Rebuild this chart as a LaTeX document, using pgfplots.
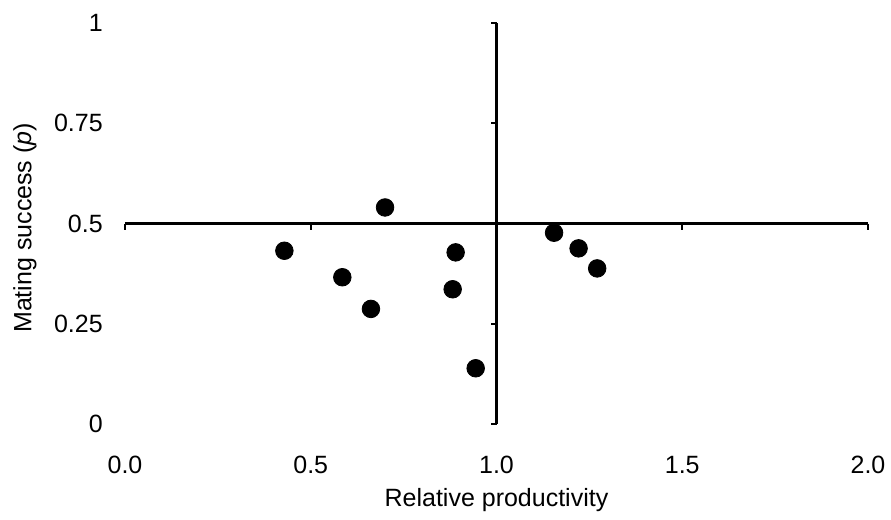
\documentclass[border=0pt]{standalone}
\usepackage{pgfplots}
\pgfplotsset{compat=1.18}
\usepackage{fontspec}
\setmainfont{Liberation Sans}
\begin{document}
\fontsize{12.5bp}{15bp}\selectfont
\begin{tikzpicture}
\begin{axis}[
  name=ax,
  scale only axis, width=371.5bp, height=200.5bp,
  xmin=0, xmax=2, ymin=0, ymax=1,
  axis line style={draw=none},
  major tick length=0pt,
  xtick={0,0.5,1,1.5,2}, ytick={0,0.25,0.5,0.75,1},
  xticklabels={0.0,0.5,1.0,1.5,2.0},
  yticklabels={0,0.25,0.5,0.75,1},
  xticklabel style={anchor=center, yshift=-20.5bp},
  yticklabel style={anchor=east, xshift=-6.8bp},
  xlabel={Relative productivity},
  ylabel={Mating success (\textit{p})},
  xlabel style={at={(axis description cs:0.5,-0.1895)}, anchor=center},
  ylabel style={at={(axis description cs:-0.1346,0.489)}, anchor=center},
  clip=false,
  font=\fontsize{12.5bp}{15bp}\selectfont,
]
\draw[line width=1.1bp] (axis cs:0,0.5) -- (axis cs:2,0.5);
\draw[line width=1.1bp] (axis cs:1,0) -- (axis cs:1,1);
\draw[line width=1.1bp] (axis cs:0,0.5) -- ++(0,-3bp);
\draw[line width=1.1bp] (axis cs:0.5,0.5) -- ++(0,-3bp);
\draw[line width=1.1bp] (axis cs:1.5,0.5) -- ++(0,-3bp);
\draw[line width=1.1bp] (axis cs:2,0.5) -- ++(0,-3bp);
\draw[line width=1.1bp] (axis cs:1,0) -- ++(-3bp,0);
\draw[line width=1.1bp] (axis cs:1,0.25) -- ++(-3bp,0);
\draw[line width=1.1bp] (axis cs:1,0.75) -- ++(-3bp,0);
\draw[line width=1.1bp] (axis cs:1,1) -- ++(-3bp,0);
\addplot[only marks, mark=*, mark size=4.4bp, black] coordinates {
  (0.429,0.432)
  (0.585,0.366)
  (0.662,0.287)
  (0.700,0.540)
  (0.890,0.428)
  (0.882,0.336)
  (0.944,0.139)
  (1.155,0.477)
  (1.221,0.438)
  (1.271,0.388)
};
\end{axis}
\pgfresetboundingbox
\path[use as bounding box] ([shift={(-62.5bp,-48bp)}]ax.south west) rectangle ([shift={(383bp,212bp)}]ax.south west);
\end{tikzpicture}
\end{document}
